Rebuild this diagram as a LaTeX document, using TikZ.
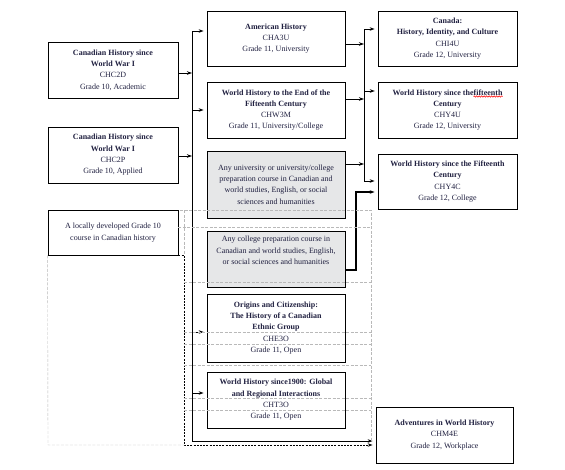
\documentclass[tikz,border=0pt]{standalone}
\usepackage{fontspec}
\setmainfont{Liberation Serif}
\usetikzlibrary{arrows.meta,positioning,decorations.pathmorphing}
\definecolor{inkblue}{RGB}{32,32,64}
\definecolor{boxgrey}{RGB}{230,231,232}
\newcommand\spellwave[1]{\tikz[baseline=(w.base)]{\node[inner sep=0pt, draw=none, text=inkblue, minimum size=0pt] (w) {#1};
    \draw[red, line width=0.5pt, overlay, decorate, decoration={snake, amplitude=0.7pt, segment length=2.5pt}]
        ([yshift=-1.5pt]w.base west) -- ([yshift=-1.5pt]w.base east);}}

\begin{document}
\begin{tikzpicture}[x=1pt, y=1pt, node distance={71.5pt}, thick,
    course/.style = {draw, rectangle, align=center, text=inkblue, minimum height=56pt,
        inner sep=2pt, font=\fontsize{8}{11.3}\selectfont},
    option/.style = {course, fill=boxgrey},
    arr/.style = {-{Stealth[length=5pt,width=3.5pt]}},
    gridline/.style = {gray!55, thin, dash pattern=on 3pt off 1.5pt}]
    \useasboundingbox (0,0) rectangle (565,-469);
    % grade 10
    \node[course, minimum width=130pt] (CHC2D) at (113,-70) {\textbf{Canadian History since}\\\textbf{World War I}\\CHC2D\\Grade 10, Academic};
    \node[course, minimum width=130pt] (CHC2P) [below of=CHC2D, node distance=85pt] {\textbf{Canadian History since}\\\textbf{World War I}\\CHC2P\\Grade 10, Applied};
    \node[course, minimum width=130pt, minimum height=45pt] (local) at (113,-232.5) {A locally developed Grade 10\\course in Canadian history};
    % grade 11
    \node[course, minimum width=138pt, minimum height=55pt] (CHA3U) at (276,-38.5) {\textbf{American History}\\CHA3U\\Grade 11, University};
    \node[course, minimum width=138pt] (CHW3M) [below of=CHA3U] {\textbf{World History to the End of the}\\\textbf{Fifteenth Century}\\CHW3M\\Grade 11, University/College};
    \node[option, minimum width=138pt, minimum height=67pt] (anyUC) at (276,-184.5) {Any university or university/college\\preparation course in Canadian and\\world studies, English, or social\\sciences and humanities};
    \node[option, minimum width=138pt, text depth=17pt] (anyC) at (276,-259) {Any college preparation course in\\Canadian and world studies, English,\\or social sciences and humanities};
    \node[course, minimum width=138pt, minimum height=68pt] (CHE3O) at (276,-328) {\textbf{Origins and Citizenship:}\\\textbf{The History of a Canadian}\\\textbf{Ethnic Group}\\CHE3O\\Grade 11, Open};
    \node[course, minimum width=138pt] (CHT3O) at (276,-400) {\textbf{World History since1900: Global}\\\textbf{and Regional Interactions}\\CHT3O\\Grade 11, Open};
    % grade 12
    \node[course, minimum width=139pt, minimum height=55pt] (CHI4U) at (447.5,-38.5) {\textbf{Canada:}\\\textbf{History, Identity, and Culture}\\CHI4U\\Grade 12, University};
    \node[course, minimum width=139pt] (CHY4U) [below of=CHI4U] {\textbf{World History since the\spellwave{fifteenth}}\\\textbf{Century}\\CHY4U\\Grade 12, University};
    \node[course, minimum width=139pt, minimum height=55pt] (CHY4C) [below of=CHY4U] {\textbf{World History since the Fifteenth}\\\textbf{Century}\\CHY4C\\Grade 12, College};
    \node[course, minimum width=137pt] (CHM4E) at (444.5,-435) {\textbf{Adventures in World History}\\CHM4E\\Grade 12, Workplace};
    % trunks
    \coordinate (Ltop) at (192,-31);
    \coordinate (Lbot) at (192,-441);
    \coordinate (Rtop) at (364,-29);
    \coordinate (Rbot) at (364,-181);
    \coordinate (Dbot) at (184,-445);
    \draw (Ltop) -- (Lbot);
    \draw (Rtop) -- (Rbot);
    \draw[arr] ([yshift=-3pt]CHC2D.east) -- ([yshift=-3pt]CHC2D.east -| Ltop);
    \draw[arr] ([yshift=-1pt]CHC2P.east) -- ([yshift=-1pt]CHC2P.east -| Ltop);
    \draw[arr, shorten >=3pt] (Ltop) -- (Ltop -| CHA3U.west);
    \draw[arr, shorten >=3pt] (CHW3M.west -| Ltop) -- (CHW3M.west);
    \draw[arr, shorten >=3pt] ([yshift=-4pt]CHE3O.west -| Ltop) -- ([yshift=-4pt]CHE3O.west);
    \draw[arr, shorten >=3pt] ([yshift=7pt]CHT3O.west -| Ltop) -- ([yshift=7pt]CHT3O.west);
    \draw[arr, shorten >=3pt] (Lbot) -- (Lbot -| CHM4E.west);
    \draw[arr] ([yshift=-5.5pt]CHA3U.east) -- ([yshift=-5.5pt]CHA3U.east -| Rtop);
    \draw[arr] ([yshift=11pt]CHW3M.east) -- ([yshift=11pt]CHW3M.east -| Rtop);
    \draw[arr] ([yshift=20.5pt]anyUC.east) -- ([yshift=20.5pt]anyUC.east -| Rtop);
    \draw[arr, shorten >=3pt] (Rtop) -- (Rtop -| CHI4U.west);
    \draw[arr, shorten >=3pt] ([yshift=19pt]CHY4U.west -| Rtop) -- ([yshift=19pt]CHY4U.west);
    \draw[arr, shorten >=3pt] (Rbot) -- (Rbot -| CHY4C.west);
    \draw[arr, line width=2pt, shorten >=3pt] ([yshift=-11pt]anyC.east) -- ++(11,0) |- ([yshift=-10.5pt]CHY4C.west);
    \draw[arr, dash pattern=on 2pt off 1.2pt, shorten >=3pt] (local.south east) -| (Dbot) -- (Dbot -| CHM4E.west);
    % table lines left over from the source
    \draw[gridline] (180,-210) -- (371,-210) -- (371,-441);
    \draw[gridline] (local.east |- 0,-227) -- (371,-227);
    \draw[gridline] (184,-210) -- (184,-255);
    \draw[gridline] (184,-282) -- (371,-282);
    \draw[gridline] (184,-332) -- (371,-332);
    \draw[gridline] (184,-344) -- (371,-344);
    \draw[gridline] (184,-365) -- (371,-365);
    \draw[gridline] (184,-398.5) -- (371,-398.5);
    \draw[gridline] (184,-410) -- (371,-410);
    \draw[gridline] (local.south west) -- (48,-445) -- (Dbot);
\end{tikzpicture}
\end{document}
